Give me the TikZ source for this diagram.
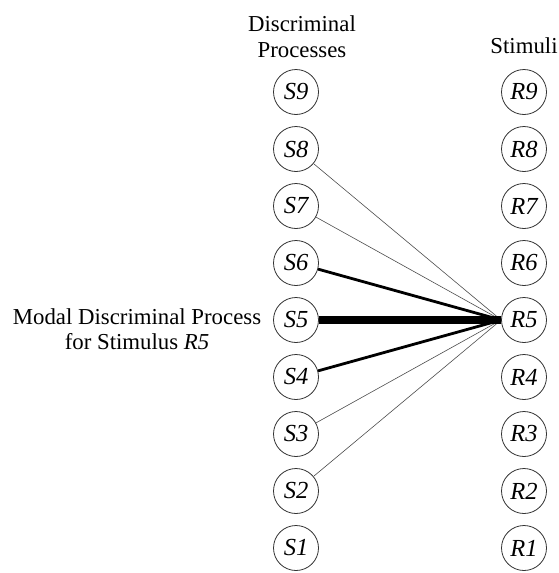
\documentclass[tikz,border=0pt]{standalone}
\usepackage{fontspec}
\setmainfont{Liberation Serif}
\begin{document}
\begin{tikzpicture}[x=1pt,y=-1pt,
  every node/.style={font=\fontsize{22.8}{25.5}\selectfont},
  circ/.style={circle,draw=black!80,line width=0.8pt,minimum size=45pt,inner sep=0pt,font=\fontsize{24.5}{26}\selectfont\itshape},
  thinline/.style={line width=0.6pt,draw=black!70},
  midline/.style={line width=2.8pt,draw=black},
  boldline/.style={line width=7.5pt,draw=black}]
\useasboundingbox (0,0) rectangle (559,573);
\foreach \i in {1,...,9}{
  \node[circ] (S\i) at (296,{92+(9-\i)*57}) {S\i};
  \node[circ] (R\i) at (524,{92+(9-\i)*57}) {R\i};
}
\node[anchor=base] (h1) at (302,31) {Discriminal};
\node[anchor=base] (h2) at (302,57) {Processes};
\node[anchor=base] (h3) at (524,53) {Stimuli};
\node[align=center] (lab) at (137,329) {Modal Discriminal Process\\for Stimulus \textit{R5}};
\foreach \s in {8,7,3,2} \draw[thinline] (S\s) -- (R5.west);
\foreach \s in {6,4} \draw[midline] (S\s) -- (R5.west);
\draw[boldline] (S5.east) -- (R5.west);
\end{tikzpicture}
\end{document}
